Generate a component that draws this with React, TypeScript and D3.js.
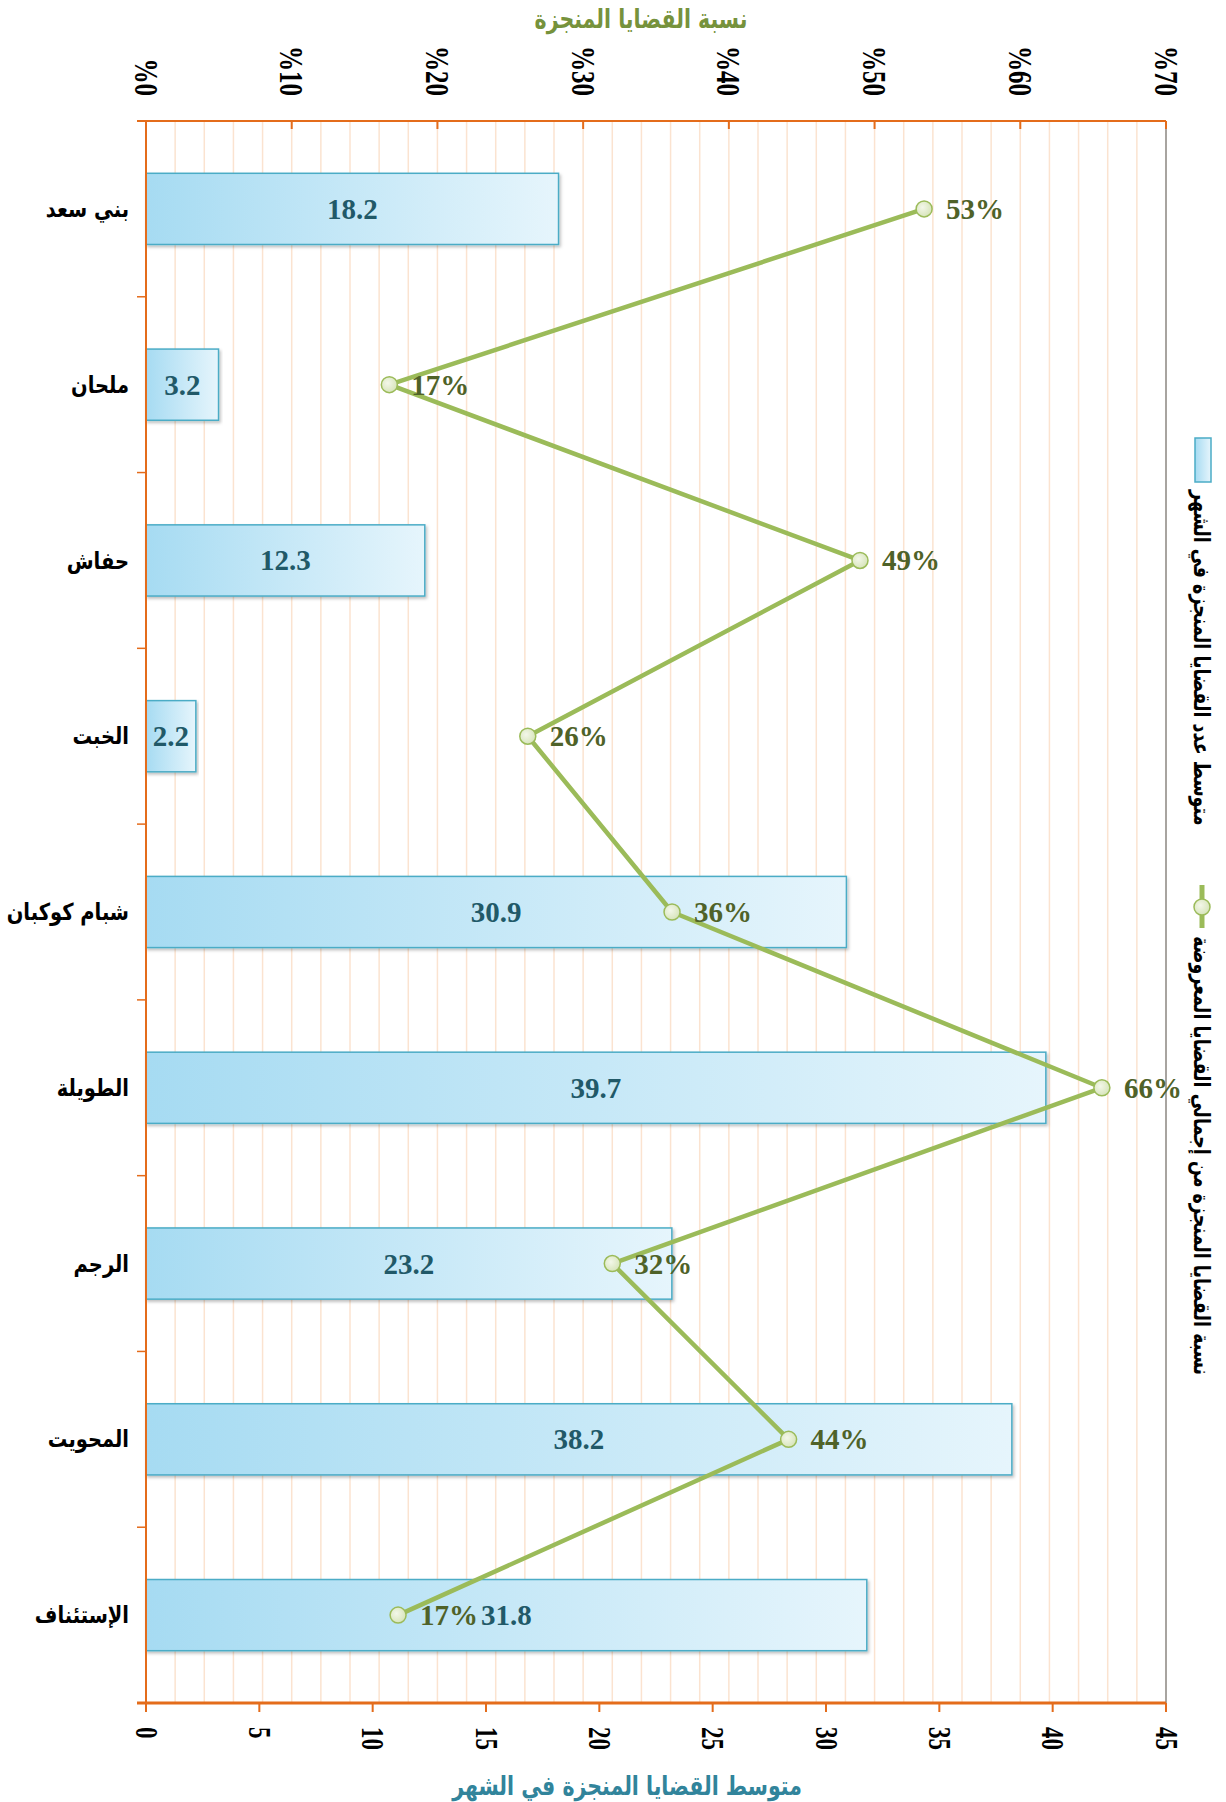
import React from 'react';
import * as d3 from 'd3';

const categories = ['بني سعد', 'ملحان', 'حفاش', 'الخبت', 'شبام كوكبان', 'الطويلة', 'الرجم', 'المحويت', 'الإستئناف'];
const avgMonthly = [18.2, 3.2, 12.3, 2.2, 30.9, 39.7, 23.2, 38.2, 31.8];
const pctDone = [0.534, 0.167, 0.49, 0.262, 0.361, 0.656, 0.32, 0.441, 0.173];
const bottomTicks = [0, 5, 10, 15, 20, 25, 30, 35, 40, 45];
const topTicks = [0, 0.1, 0.2, 0.3, 0.4, 0.5, 0.6, 0.7];
const titleTop = 'نسبة القضايا المنجزة';
const titleBottom = 'متوسط القضايا المنجزة في الشهر';
const legendBar = 'متوسط عدد القضايا المنجزة في الشهر';
const legendLine = 'نسبة القضايا المنجزة من إجمالي القضايا المعروضة';

const W = 1226, H = 1802;
const L = 146, R = 1166, T = 121, B = 1703;

export default function App() {
  const x = d3.scaleLinear().domain([0, 45]).range([L, R]);
  const x2 = d3.scaleLinear().domain([0, 0.7]).range([L, R]);
  const y = d3.scaleBand<string>().domain(categories).range([T, B]).paddingInner(0.595).paddingOuter(0.2975);
  const step = y.step();
  const bw = y.bandwidth();
  const cy = (c: string) => (y(c) as number) + bw / 2;
  const minor = d3.range(0, 0.7001, 0.02);
  const line = d3.line<number>().x((v) => x2(v)).y((_, i) => cy(categories[i]));
  const fmtPct = d3.format('.0%');
  const fmtVal = d3.format('.1f');
  const serif = "'Liberation Serif', 'Times New Roman', serif";
  const arab = "'DejaVu Sans', sans-serif";
  const boundaries = d3.range(0, categories.length + 1).map((i) => T + i * step);

  return (
    <svg width={W} height={H} style={{ position: 'absolute', left: 0, top: 0, background: '#fff' }}>
      <defs>
        <linearGradient id="barG" x1="0" x2="1" y1="0" y2="0">
          <stop offset="0" stopColor="#a6dbf2" />
          <stop offset="1" stopColor="#e6f5fc" />
        </linearGradient>
        <radialGradient id="mkG" cx="0.4" cy="0.4" r="0.7">
          <stop offset="0" stopColor="#f3f7e9" />
          <stop offset="1" stopColor="#d3e2b4" />
        </radialGradient>
        <filter id="sh" x="-5%" y="-20%" width="110%" height="150%">
          <feDropShadow dx="1.5" dy="2" stdDeviation="1.5" floodColor="#000" floodOpacity="0.25" />
        </filter>
      </defs>

      {/* minor gridlines */}
      {minor.map((t, i) => (
        <line key={'g' + i} x1={x2(t)} x2={x2(t)} y1={T} y2={B} stroke="#fbe3d0" strokeWidth={1.5} />
      ))}

      {/* right border */}
      <line x1={R} x2={R} y1={T} y2={B} stroke="#8c8c8c" strokeWidth={1.5} />

      {/* bars */}
      {categories.map((c, i) => (
        <rect key={'b' + i} x={x(0)} y={y(c)} width={x(avgMonthly[i]) - x(0)} height={bw}
          fill="url(#barG)" stroke="#4bacc6" strokeWidth={1.5} filter="url(#sh)" />
      ))}

      {/* bar labels */}
      {categories.map((c, i) => (
        <text key={'bl' + i} x={(x(0) + x(avgMonthly[i])) / 2} y={cy(c)} textAnchor="middle" dominantBaseline="central"
          fontFamily={serif} fontWeight="bold" fontSize={29} fill="#215968">{fmtVal(avgMonthly[i])}</text>
      ))}

      {/* axes */}
      <line x1={L} x2={L} y1={T} y2={B} stroke="#e46c1b" strokeWidth={2} />
      <line x1={137} x2={R} y1={T} y2={T} stroke="#e46c1b" strokeWidth={2} />
      <line x1={137} x2={R} y1={B} y2={B} stroke="#e46c1b" strokeWidth={3} />
      {boundaries.map((b, i) => (
        <line key={'ct' + i} x1={137} x2={L} y1={b} y2={b} stroke="#e46c1b" strokeWidth={1.5} />
      ))}
      {bottomTicks.map((t, i) => (
        <line key={'bt' + i} x1={x(t)} x2={x(t)} y1={B} y2={B + 9} stroke="#e46c1b" strokeWidth={2} />
      ))}
      {topTicks.map((t, i) => (
        <line key={'tt' + i} x1={x2(t)} x2={x2(t)} y1={T} y2={T + 8} stroke="#e46c1b" strokeWidth={2} />
      ))}

      {/* line series */}
      <path d={line(pctDone) || ''} fill="none" stroke="#9bbb59" strokeWidth={4.5} strokeLinejoin="round" />
      {categories.map((c, i) => (
        <circle key={'m' + i} cx={x2(pctDone[i])} cy={cy(c)} r={8} fill="url(#mkG)" stroke="#9bbb59" strokeWidth={1.5} />
      ))}
      {categories.map((c, i) => (
        <text key={'ml' + i} x={x2(pctDone[i]) + 22} y={cy(c)} textAnchor="start" dominantBaseline="central"
          fontFamily={serif} fontWeight="bold" fontSize={29} fill="#4f6228">{fmtPct(pctDone[i])}</text>
      ))}

      {/* category labels */}
      {categories.map((c, i) => (
        <text key={'cl' + i} transform={`translate(129,${cy(c)}) scale(1,1.2)`} textAnchor="end" dominantBaseline="central"
          fontFamily={arab} fontWeight="bold" fontSize={19.5} fill="#000">{c}</text>
      ))}

      {/* bottom tick labels */}
      {bottomTicks.map((t, i) => (
        <text key={'btl' + i} transform={`translate(${x(t)},1727) rotate(90) scale(1,1.35)`} textAnchor="start"
          dominantBaseline="central" fontFamily={serif} fontWeight="bold" fontSize={23} fill="#000">{String(t)}</text>
      ))}
      {/* top tick labels */}
      {topTicks.map((t, i) => (
        <text key={'ttl' + i} transform={`translate(${x2(t)},96) rotate(90) scale(1,1.35)`} textAnchor="end"
          dominantBaseline="central" fontFamily={serif} fontWeight="bold" fontSize={25} fill="#000">{'%' + Math.round(t * 100)}</text>
      ))}

      {/* axis titles */}
      <text transform="translate(641,19) scale(1,1.3)" textAnchor="middle" dominantBaseline="central" fontFamily={arab} fontWeight="bold" fontSize={20.5} fill="#76923c">{titleTop}</text>
      <text transform="translate(627,1786) scale(1,1.3)" textAnchor="middle" dominantBaseline="central" fontFamily={arab} fontWeight="bold" fontSize={20.5} fill="#31849b">{titleBottom}</text>

      {/* legend */}
      <rect x={1195} y={438} width={16} height={44} fill="url(#barG)" stroke="#4bacc6" strokeWidth={1.5} />
      <text transform="translate(1202,490) rotate(90) scale(1,1.3)" textAnchor="start" dominantBaseline="central"
        fontFamily={arab} fontWeight="bold" fontSize={17.5} fill="#000">{legendBar}</text>
      <line x1={1202} x2={1202} y1={885} y2={928} stroke="#9bbb59" strokeWidth={5} />
      <circle cx={1202} cy={907} r={8} fill="url(#mkG)" stroke="#9bbb59" strokeWidth={1.5} />
      <text transform="translate(1202,936) rotate(90) scale(1,1.3)" textAnchor="start" dominantBaseline="central"
        fontFamily={arab} fontWeight="bold" fontSize={17.5} fill="#000">{legendLine}</text>
    </svg>
  );
}
